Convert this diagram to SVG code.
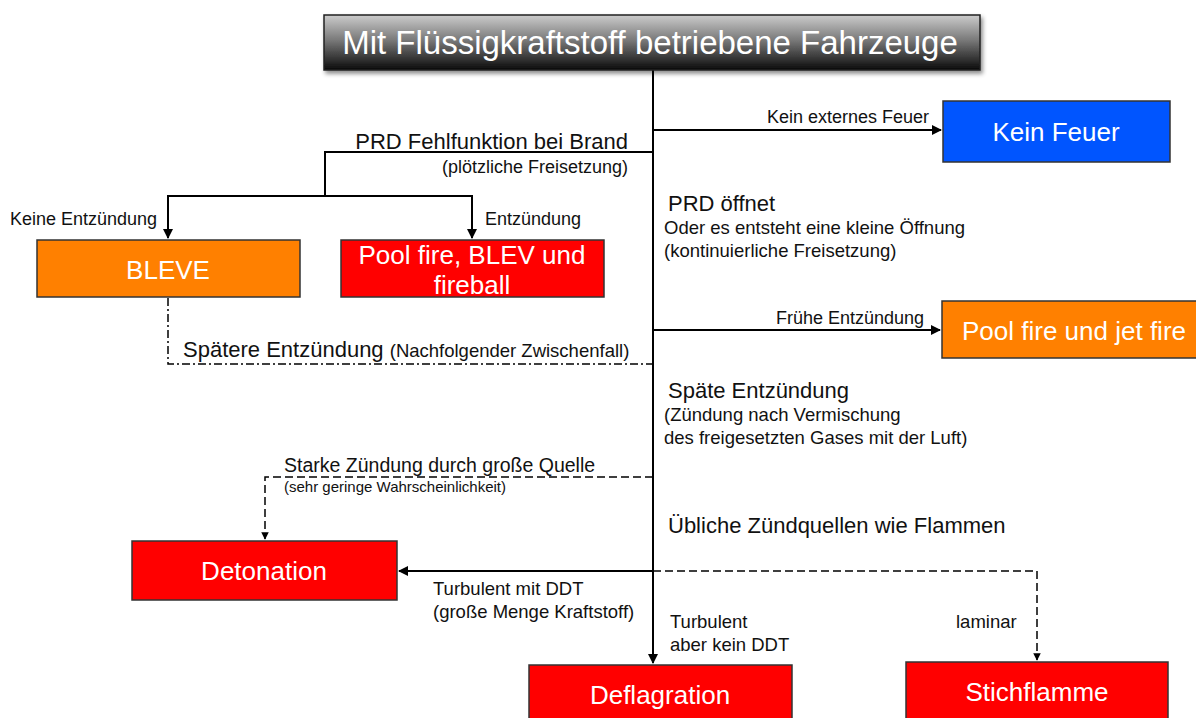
<svg xmlns="http://www.w3.org/2000/svg" width="1196" height="718" viewBox="0 0 1196 718">
<defs>
<linearGradient id="tg" x1="0" y1="0" x2="0" y2="1">
<stop offset="0" stop-color="#cccccc"/>
<stop offset="0.45" stop-color="#7a7a7a"/>
<stop offset="1" stop-color="#0a0a0a"/>
</linearGradient>
<marker id="ah" viewBox="0 0 10 10" refX="9" refY="5" markerWidth="5" markerHeight="5" orient="auto" markerUnits="strokeWidth">
<path d="M0,0 L10,5 L0,10 z" fill="#000"/>
</marker>
<filter id="sh" x="-5%" y="-10%" width="115%" height="140%">
<feDropShadow dx="2" dy="3" stdDeviation="2" flood-color="#000" flood-opacity="0.45"/>
</filter>
</defs>
<style>
text{font-family:"Liberation Sans",Arial,sans-serif;fill:#111}
.box{stroke:#333;stroke-width:1.5}
.red{fill:#ff0000}
.org{fill:#ff8000}
.blu{fill:#0055ff}
.bt{fill:#fff;font-size:26px;text-anchor:middle}
.l18{font-size:22px}
.l15{font-size:18.5px}
.l14{font-size:18px}
.l12{font-size:15px}
.ln{fill:none;stroke:#000;stroke-width:2}
.dash{stroke-dasharray:8 4}
.dd{stroke-dasharray:8 3 2 3;stroke-width:1.5}
</style>

<g id="connectors">
<path class="ln" d="M653,70 V663" marker-end="url(#ah)"/>
<path class="ln" d="M653,130 H941" marker-end="url(#ah)"/>
<path class="ln" d="M653,152 H325 V196"/>
<path class="ln" d="M168,238 V196 H472 V238"/>
<path class="ln" d="M168,196 V238" marker-end="url(#ah)"/>
<path class="ln" d="M472,196 V238" marker-end="url(#ah)"/>
<path class="ln dd" d="M168,298 V364 H653"/>
<path class="ln" d="M653,330 H940" marker-end="url(#ah)"/>
<path class="ln dash" d="M653,477 H265 V539" marker-end="url(#ah)" style="stroke-width:1.5"/>
<path class="ln" d="M653,571 H399" marker-end="url(#ah)"/>
<path class="ln dash" d="M653,571 H1037 V660" marker-end="url(#ah)" style="stroke-width:1.5"/>
</g>

<g id="title">
<rect x="324" y="15" width="656" height="55" fill="url(#tg)" stroke="#222" stroke-width="1.5" filter="url(#sh)"/>
<text x="650" y="54" text-anchor="middle" style="fill:#fff;font-size:33px">Mit Flüssigkraftstoff betriebene Fahrzeuge</text>
</g>

<g id="kein-feuer">
<rect class="box blu" x="943" y="101" width="227" height="61"/>
<text class="bt" x="1056" y="141">Kein Feuer</text>
</g>

<g id="bleve">
<rect class="box org" x="37" y="240" width="263" height="57"/>
<text class="bt" x="168" y="279">BLEVE</text>
</g>

<g id="pool-fire-blev">
<rect class="box red" x="341" y="240" width="263" height="57"/>
<text class="bt" x="472" y="264">Pool fire, BLEV und</text>
<text class="bt" x="472" y="294">fireball</text>
</g>

<g id="pool-jet">
<rect class="box org" x="942" y="301" width="260" height="57"/>
<text class="bt" x="962" y="340" style="text-anchor:start">Pool fire und jet fire</text>
</g>

<g id="detonation">
<rect class="box red" x="132" y="541" width="265" height="59"/>
<text class="bt" x="264" y="580">Detonation</text>
</g>

<g id="deflagration">
<rect class="box red" x="529" y="665" width="263" height="60"/>
<text class="bt" x="660" y="704">Deflagration</text>
</g>

<g id="stichflamme">
<rect class="box red" x="906" y="662" width="262" height="60"/>
<text class="bt" x="1037" y="701">Stichflamme</text>
</g>

<g id="labels">
<text class="l14" x="929" y="123" text-anchor="end">Kein externes Feuer</text>
<text class="l18" x="628" y="149" text-anchor="end">PRD Fehlfunktion bei Brand</text>
<text class="l14" x="628" y="173" text-anchor="end">(plötzliche Freisetzung)</text>
<text class="l14" x="10" y="225">Keine Entzündung</text>
<text class="l14" x="485" y="225">Entzündung</text>
<text class="l18" x="668" y="211">PRD öffnet</text>
<text class="l15" x="664" y="234">Oder es entsteht eine kleine Öffnung</text>
<text class="l15" x="664" y="257">(kontinuierliche Freisetzung)</text>
<text x="183" y="357"><tspan class="l18">Spätere Entzündung </tspan><tspan class="l15">(Nachfolgender Zwischenfall)</tspan></text>
<text class="l14" x="924" y="324" text-anchor="end">Frühe Entzündung</text>
<text class="l18" x="668" y="398">Späte Entzündung</text>
<text class="l15" x="664" y="421">(Zündung nach Vermischung</text>
<text class="l15" x="664" y="444">des freigesetzten Gases mit der Luft)</text>
<text x="284" y="472" style="font-size:19.5px">Starke Zündung durch große Quelle</text>
<text class="l12" x="284" y="492">(sehr geringe Wahrscheinlichkeit)</text>
<text class="l18" x="668" y="533">Übliche Zündquellen wie Flammen</text>
<text class="l15" x="433" y="595">Turbulent mit DDT</text>
<text class="l15" x="433" y="618">(große Menge Kraftstoff)</text>
<text class="l15" x="670" y="628">Turbulent</text>
<text class="l15" x="670" y="651">aber kein DDT</text>
<text class="l15" x="956" y="628">laminar</text>
</g>
</svg>
